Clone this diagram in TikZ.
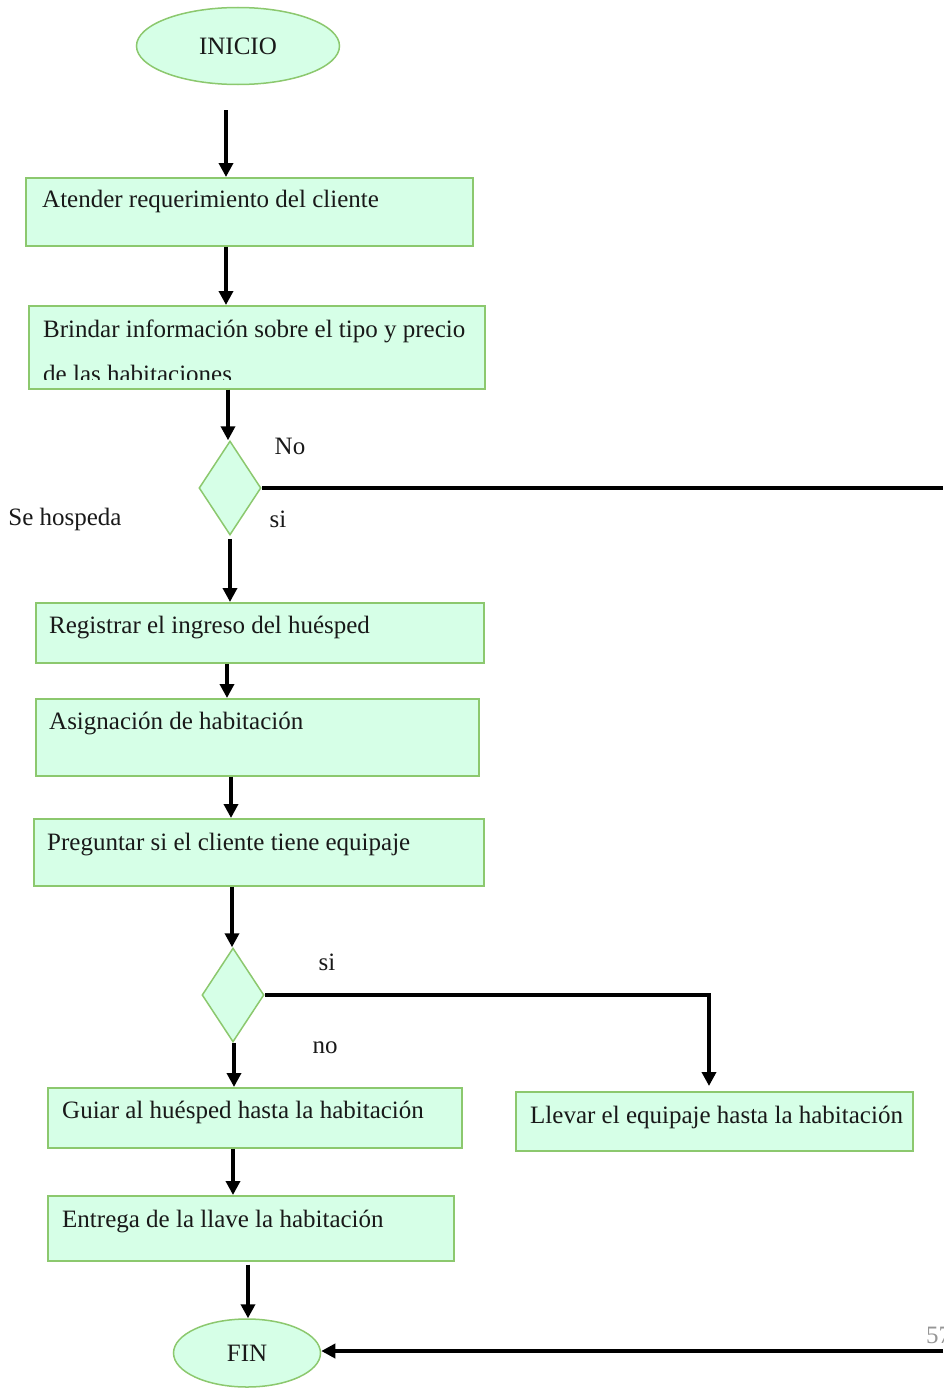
\documentclass[tikz,border=0pt]{standalone}
\usepackage{fontspec}
\setmainfont{Liberation Serif}
\usetikzlibrary{arrows.meta,shapes.geometric}
\definecolor{boxfill}{RGB}{214,255,231}
\definecolor{boxline}{RGB}{140,200,110}
\definecolor{pagenum}{RGB}{150,150,150}

\begin{document}
\begin{tikzpicture}[x=1pt,y=-1pt,
  txt/.style={font=\fontsize{25}{30}\selectfont, text=black!90, inner sep=0pt},
  stepbox/.style={draw=boxline, fill=boxfill, line width=1.5pt, inner sep=0pt},
  stepend/.style={stepbox, ellipse},
  choice/.style={stepbox, diamond},
  lbl/.style={txt, anchor=base west},
  flow/.style={line width=3.6pt},
  arr/.style={flow, -{Triangle[width=14pt,length=14pt]}}
]
\useasboundingbox (0,0) rectangle (943,1389);

% start / end
\node[stepend, txt, minimum width=203, minimum height=77] (inicio) at (238,46) {INICIO};
\node[stepend, txt, minimum width=147, minimum height=68] (fin) at (247,1353) {FIN};

% process boxes
\node[stepbox, minimum width=447, minimum height=68, anchor=north west] (b1) at (25,177) {};
\node[lbl] (t1) at (42,207) {Atender requerimiento del cliente};

\node[stepbox, minimum width=456, minimum height=83, anchor=north west] (b2) at (28,305) {};
\begin{scope}
  \clip (28,305) rectangle (484,379);
  \node[lbl] (t2a) at (43,337) {Brindar información sobre el tipo y precio};
  \node[lbl] (t2b) at (43,382) {de las habitaciones};
\end{scope}

\node[stepbox, minimum width=448, minimum height=60, anchor=north west] (b3) at (35,602) {};
\node[lbl] (t3) at (49,633) {Registrar el ingreso del huésped};

\node[stepbox, minimum width=443, minimum height=77, anchor=north west] (b4) at (35,698) {};
\node[lbl] (t4) at (49,729) {Asignación de habitación};

\node[stepbox, minimum width=450, minimum height=67, anchor=north west] (b5) at (33,818) {};
\node[lbl] (t5) at (47,850) {Preguntar si el cliente tiene equipaje};

\node[stepbox, minimum width=397, minimum height=59, anchor=north west] (b6) at (515,1091) {};
\node[lbl] (t6) at (530,1123) {Llevar el equipaje hasta la habitación};

\node[stepbox, minimum width=414, minimum height=60, anchor=north west] (b7) at (47,1087) {};
\node[lbl] (t7) at (62,1118) {Guiar al huésped hasta la habitación};

\node[stepbox, minimum width=406, minimum height=65, anchor=north west] (b8) at (47,1195) {};
\node[lbl] (t8) at (62,1227) {Entrega de la llave la habitación};

% decisions
\node[choice, minimum width=62, minimum height=94] (d1) at (230,488) {};
\node[choice, minimum width=62, minimum height=94] (d2) at (233,995) {};

% decision labels
\node[txt] (no1) at (290,446) {No};
\node[txt] (si1) at (278,519) {si};
\node[txt] (hosp) at (65,519) {Se hospeda};
\node[txt] (si2) at (327,962) {si};
\node[txt] (no2) at (325,1048) {no};

% page number at the edge
\node[txt, text=pagenum, anchor=west] (pg) at (926,1335) {57};

% off-page ends of the long connectors
\coordinate (edgeA) at (943,488);
\coordinate (edgeB) at (943,1351);

% connectors
\draw[arr, shorten <=25pt] (226,0 |- inicio.south) -- (226,0 |- b1.north);
\draw[arr] (226,0 |- b1.south) -- (226,0 |- b2.north);
\draw[arr] (228,0 |- b2.south) -- (228,0 |- d1.north);
\draw[flow] (d1.east) -- (edgeA);
\draw[arr, shorten <=3pt] (230,0 |- d1.south) -- (230,0 |- b3.north);
\draw[arr] (227,0 |- b3.south) -- (227,0 |- b4.north);
\draw[arr] (231,0 |- b4.south) -- (231,0 |- b5.north);
\draw[arr] (232,0 |- b5.south) -- (232,0 |- d2.north);
\draw[arr, shorten >=5pt] (d2.east) -| (709,0 |- b6.north);
\draw[arr] (234,0 |- d2.south) -- (234,0 |- b7.north);
\draw[arr] (233,0 |- b7.south) -- (233,0 |- b8.north);
\draw[arr, shorten <=3pt] (248,0 |- b8.south) -- (248,0 |- fin.north);
\draw[arr] (edgeB) -- (fin.east |- edgeB);
\end{tikzpicture}
\end{document}
